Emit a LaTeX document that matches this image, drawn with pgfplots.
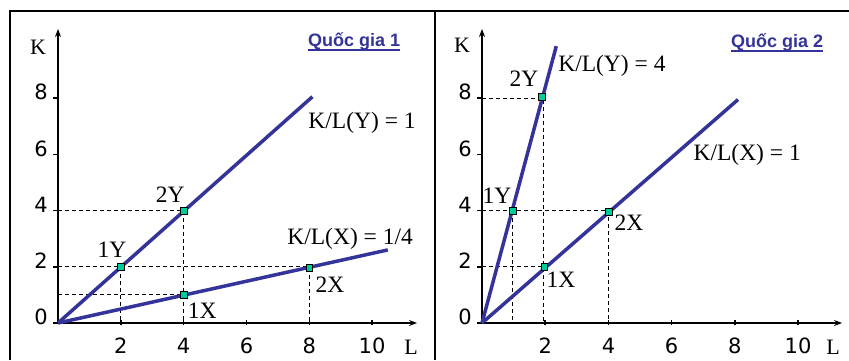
\documentclass[border=0pt]{standalone}
\usepackage{pgfplots}
\pgfplotsset{compat=1.18}
\usetikzlibrary{arrows.meta}
\usepackage{fontspec}
\setmainfont{Liberation Serif}
\newfontfamily\tickfont{DejaVu Sans}
\newfontfamily\titlefont{Liberation Sans}
\definecolor{lineblue}{HTML}{333399}
\definecolor{ptgreen}{HTML}{00CC99}
\tikzset{lab/.style={font=\fontsize{23.5bp}{26bp}\selectfont, inner sep=0pt}}
\pgfplotsset{
  panel/.style={
    scale only axis, height=294bp, ymin=0, ymax=10.46, xmin=0,
    axis lines=left,
    axis line style={line width=1.2bp, -{Stealth[length=8bp,width=6bp]}},
    xtick={2,4,6,8,10}, ytick={0,2,4,6,8},
    /pgf/number format/assume math mode=true,
    tick align=outside, major tick length=5bp,
    every tick/.style={black, line width=1.5bp},
    xtick style={yshift=3bp},
    tick label style={font=\tickfont\fontsize{21bp}{24bp}\selectfont},
    xticklabel style={inner sep=0pt, anchor=north, yshift=-10bp},
    yticklabel style={inner sep=0pt, anchor=east, xshift=-5bp, yshift=6bp},
    clip=false,
  },
  ratioline/.style={lineblue, line width=3.5bp, no markers},
  guide/.style={black, line width=0.9bp, dash pattern=on 4bp off 3bp, no markers},
  pts/.style={only marks, mark=square*, mark size=3.4bp, mark options={fill=ptgreen, draw=black, line width=0.6bp, rounded corners=1.2bp}},
}
\begin{document}
\begin{tikzpicture}[x=1bp,y=1bp]
\useasboundingbox (0,0) rectangle (849,360);
% frame
\draw[line width=2bp] (10,0) -- (10,349) -- (849,349);
\draw[line width=2bp] (435,0) -- (435,349);

% ---------- Panel 1 ----------
\begin{axis}[panel, width=359bp, xmax=11.43, at={(58bp,37bp)}, anchor=south west]
\addplot[guide] coordinates {(0,4) (4,4) (4,0)};
\addplot[guide] coordinates {(0,2) (8,2) (8,0)};
\addplot[guide] coordinates {(2,2) (2,0)};
\addplot[guide] coordinates {(0,1) (4,1)};
\addplot[ratioline] coordinates {(0,0) (8.1,8.05)};
\addplot[ratioline] coordinates {(0,0) (10.5,2.6)};
\addplot[pts] coordinates {(2,2) (4,4) (4,1) (8,1.95)};
\node[lab] at (axis cs:3.57,4.56) {2Y};
\node[lab] at (axis cs:1.72,2.6) {1Y};
\node[lab] at (axis cs:4.59,0.43) {1X};
\node[lab] at (axis cs:8.66,1.35) {2X};
\node[lab] at (axis cs:9.68,7.12) {K/L(Y) = 1};
\node[lab] at (axis cs:9.3,2.99) {K/L(X) = 1/4};
\end{axis}
\node[font=\fontsize{22bp}{24bp}\selectfont, inner sep=0pt] at (38,313) {K};
\node[font=\fontsize{22bp}{24bp}\selectfont, inner sep=0pt] at (411,13) {L};
\node[font=\fontsize{18bp}{20bp}\titlefont\bfseries, text=lineblue, inner sep=0pt, anchor=base west] (t1) at (308,314) {Quốc gia 1};
\draw[lineblue, line width=1.6bp] (308,310) -- (t1.base east |- 0,310);

% ---------- Panel 2 ----------
\begin{axis}[panel, width=360bp, xmax=11.39, at={(482bp,37bp)}, anchor=south west]
\addplot[guide] coordinates {(0,8) (1.95,8) (1.95,0)};
\addplot[guide] coordinates {(0,4) (4,4) (4,0)};
\addplot[guide] coordinates {(0.97,4) (0.97,0)};
\addplot[guide] coordinates {(0,2) (1.97,2)};
\addplot[ratioline] coordinates {(0,0) (2.35,9.85)};
\addplot[ratioline] coordinates {(0,0) (8.1,7.95)};
\addplot[pts] coordinates {(0.97,4) (1.9,8.05) (1.97,2) (4,3.95)};
\node[lab] at (axis cs:1.33,8.68) {2Y};
\node[lab] at (axis cs:4.11,9.15) {K/L(Y) = 4};
\node[lab] at (axis cs:0.47,4.52) {1Y};
\node[lab] at (axis cs:4.65,3.56) {2X};
\node[lab] at (axis cs:2.5,1.53) {1X};
\node[lab] at (axis cs:8.39,5.98) {K/L(X) = 1};
\end{axis}
\node[font=\fontsize{22bp}{24bp}\selectfont, inner sep=0pt] at (462,315) {K};
\node[font=\fontsize{22bp}{24bp}\selectfont, inner sep=0pt] at (833,13) {L};
\node[font=\fontsize{18bp}{20bp}\titlefont\bfseries, text=lineblue, inner sep=0pt, anchor=base west] (t2) at (731,313) {Quốc gia 2};
\draw[lineblue, line width=1.6bp] (731,309) -- (t2.base east |- 0,309);
\end{tikzpicture}
\end{document}
